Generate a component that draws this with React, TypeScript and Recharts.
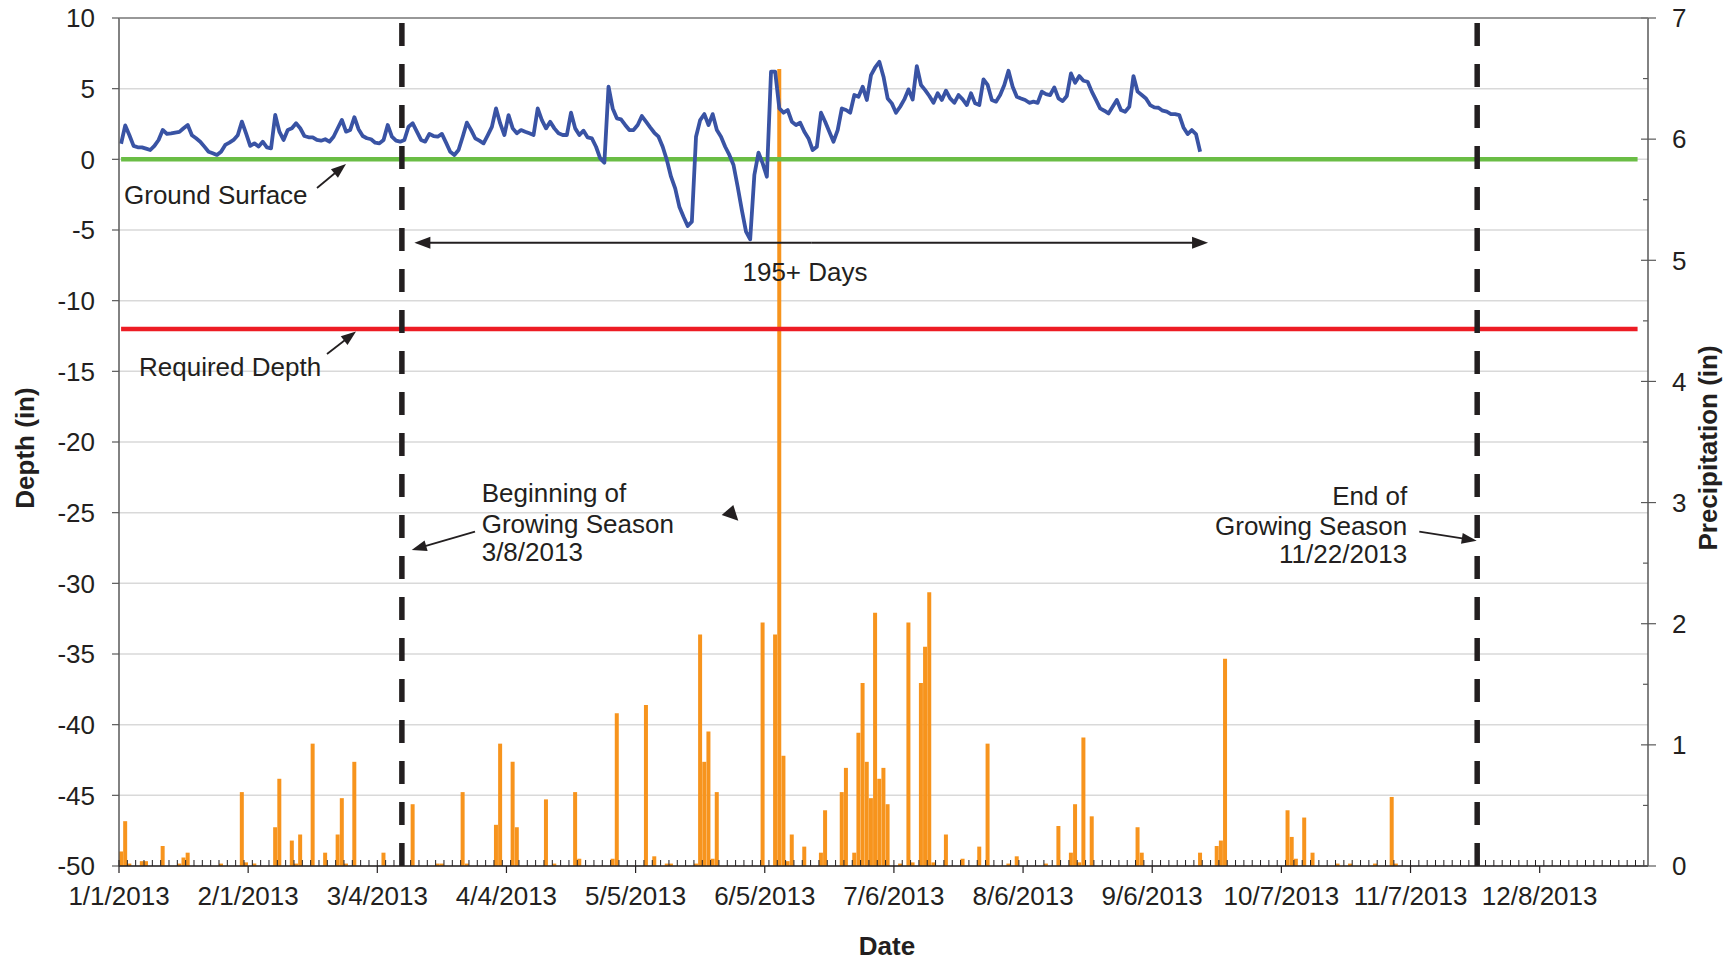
import React from 'react';
import { ComposedChart, Line, Bar, XAxis, YAxis, CartesianGrid, ReferenceLine } from 'recharts';

// ---------- data ----------
// Daily water-table depth (in), day 0 = 1/1/2013
const depthValues: number[] = [
  1.1, 2.4, 1.7, 0.95, 0.85, 0.85, 0.76, 0.66, 0.95, 1.37,
  2.08, 1.8, 1.84, 1.89, 1.94, 2.2, 2.43, 1.7, 1.49, 1.25,
  0.9, 0.54, 0.43, 0.31, 0.54, 1.02, 1.18, 1.37, 1.7, 2.67,
  1.84, 0.95, 1.13, 0.9, 1.25, 0.85, 0.78, 3.14, 1.96, 1.37,
  2.08, 2.2, 2.55, 2.2, 1.65, 1.56, 1.56, 1.37, 1.32, 1.42,
  1.25, 1.6, 2.2, 2.79, 1.96, 2.08, 2.98, 2.13, 1.65, 1.49,
  1.42, 1.18, 1.13, 1.37, 2.43, 1.6, 1.32, 1.25, 1.37, 2.31,
  2.55, 1.96, 1.37, 1.25, 1.8, 1.65, 1.6, 1.8, 1.18, 0.54,
  0.31, 0.66, 1.6, 2.6, 2.08, 1.49, 1.32, 1.13, 1.7, 2.3,
  3.6, 2.54, 1.72, 3.13, 2.19, 1.84, 2.07, 1.95, 1.84, 1.72,
  3.6, 2.78, 2.19, 2.66, 2.19, 1.84, 1.72, 1.72, 3.3, 2.19,
  1.72, 2.03, 1.55, 1.48, 0.89, 0.07, -0.24, 5.14, 3.6, 2.9,
  2.83, 2.43, 2.07, 2.07, 2.43, 3.06, 2.66, 2.26, 1.88, 1.6,
  0.89, -0.05, -1.23, -2.06, -3.35, -4.06, -4.72, -4.41, 1.6, 2.78,
  3.2, 2.43, 3.2, 2.07, 1.6, 0.89, 0.31, -0.4, -1.94, -3.59,
  -5.12, -5.66, -1.11, 0.47, -0.29, -1.23, 6.2, 6.2, 3.6, 3.3,
  3.49, 2.66, 2.43, 2.59, 1.95, 1.48, 0.66, 0.89, 3.3, 2.66,
  1.95, 1.25, 2.07, 3.6, 3.49, 3.3, 4.55, 4.43, 5.14, 4.2,
  5.96, 6.5, 6.9, 5.85, 4.31, 3.96, 3.3, 3.72, 4.24, 4.95,
  4.24, 6.6, 5.26, 4.9, 4.48, 4.0, 4.67, 4.2, 4.86, 4.31,
  4.0, 4.55, 4.24, 3.84, 4.67, 3.96, 3.84, 5.66, 5.26, 4.2,
  4.08, 4.55, 5.26, 6.27, 5.14, 4.43, 4.31, 4.2, 4.0, 4.08,
  4.0, 4.79, 4.62, 4.55, 5.09, 4.31, 4.12, 4.48, 6.08, 5.42,
  5.89, 5.56, 5.49, 4.79, 4.2, 3.6, 3.44, 3.25, 3.72, 4.2,
  3.49, 3.37, 3.72, 5.89, 4.79, 4.55, 4.31, 3.84, 3.68, 3.65,
  3.44, 3.37, 3.2, 3.2, 3.13, 2.26, 1.79, 2.07, 1.79, 0.54,
];

// Daily precipitation (in): day index and amount
const precipDays: number[] = [
  0, 1, 2, 5, 6, 10, 14, 15, 16, 24, 29, 30, 32, 37, 38, 41, 42, 43, 46, 49,
  52, 53, 54, 56, 63, 70, 76, 77,
  82, 83, 90, 91, 94, 95, 102, 104, 109, 110, 118, 119, 126, 128, 131, 132,
  138, 139, 140, 141, 142, 143, 154, 157, 158, 159,
  160, 161, 164, 168, 169, 173, 174, 176, 177, 178, 179, 180, 181, 182, 183, 184,
  187, 189, 190, 192, 193, 194, 195, 198, 202, 206, 208, 213, 215, 222, 225, 228,
  229, 230, 231, 233,
  244, 245, 259, 263, 264, 265, 280, 281, 282, 284, 286, 292, 295, 301, 305, 306,
];
const precipValues: number[] = [
  0.12, 0.37, 0.02, 0.04, 0.04, 0.165, 0.02, 0.07, 0.11, 0.02, 0.61, 0.03, 0.02, 0.32, 0.72, 0.21, 0.02, 0.26, 1.01, 0.11,
  0.26, 0.56, 0.02, 0.86, 0.11, 0.51, 0.02, 0.02,
  0.61, 0.02, 0.34, 1.01, 0.86, 0.32, 0.55, 0.02, 0.61, 0.06, 0.06, 1.26, 1.33, 0.08, 0.02, 0.02,
  0.02, 1.91, 0.86, 1.11, 0.06, 0.61, 2.01, 1.91, 6.58, 0.91,
  0.04, 0.26, 0.16, 0.11, 0.46, 0.61, 0.81, 0.11, 1.1, 1.51, 0.86, 0.56, 2.09, 0.72, 0.81, 0.51,
  0.02, 2.01, 0.03, 1.51, 1.81, 2.26, 0.03, 0.26, 0.06, 0.16, 1.01, 0.02, 0.08, 0.02, 0.33, 0.11,
  0.51, 0.03, 1.06, 0.41,
  0.32, 0.11, 0.11, 0.165, 0.21, 1.71, 0.46, 0.24, 0.06, 0.4, 0.11, 0.02, 0.02, 0.02, 0.57, 0.02,
];

const dateTickDays: number[] = [0, 31, 62, 93, 124, 155, 186, 217, 248, 279, 310, 341];
const dateTickLabels: string[] = [
  '1/1/2013', '2/1/2013', '3/4/2013', '4/4/2013', '5/5/2013', '6/5/2013',
  '7/6/2013', '8/6/2013', '9/6/2013', '10/7/2013', '11/7/2013', '12/8/2013',
];
const depthTicks: number[] = [-50, -45, -40, -35, -30, -25, -20, -15, -10, -5, 0, 5, 10];
const precipTicks: number[] = [0, 0.5, 1, 1.5, 2, 2.5, 3, 3.5, 4, 4.5, 5, 5.5, 6, 6.5, 7];

const GROUND_SURFACE = 0;
const REQUIRED_DEPTH = -12;
const REF_LINE_START_DAY = 0;
const REF_LINE_END_DAY = 364;
const SEASON_START = 67.9; // 3/8/2013 marker
const SEASON_END = 326; // 11/22/2013 marker
const SPAN_START = 70.9;
const SPAN_END = 261.4;
const SPAN_DEPTH = -5.9;

// ---------- layout ----------
const W = 1733;
const H = 963;
const LEFT_W = 119;
const RIGHT_W = 85;
const TOP = 18;
const X_H = 97;
const X_DOMAIN: [number, number] = [0, 367];
const D_DOMAIN: [number, number] = [-50, 10];
const PL = LEFT_W;
const PR = W - RIGHT_W;
const PT = TOP;
const PB = H - X_H;
const sx = (d: number) => PL + ((d - X_DOMAIN[0]) / (X_DOMAIN[1] - X_DOMAIN[0])) * (PR - PL);
const sy = (v: number) => PB - ((v - D_DOMAIN[0]) / (D_DOMAIN[1] - D_DOMAIN[0])) * (PB - PT);

const FONT = 'Liberation Sans, Arial, Helvetica, sans-serif';
const INK = '#231F20';

// build the table (each day is plotted at the middle of its date slot)
type Row = { x: number; depth?: number; precip?: number; ground?: number; required?: number };
const rowMap = new Map<number, Row>();
const getRow = (day: number) => {
  const x = day + 0.5;
  let r = rowMap.get(x);
  if (!r) {
    r = { x };
    rowMap.set(x, r);
  }
  return r;
};
depthValues.forEach((v, d) => {
  getRow(d).depth = v;
});
precipDays.forEach((d, i) => {
  getRow(d).precip = precipValues[i];
});
getRow(REF_LINE_START_DAY).ground = GROUND_SURFACE;
getRow(REF_LINE_END_DAY).ground = GROUND_SURFACE;
getRow(REF_LINE_START_DAY).required = REQUIRED_DEPTH;
getRow(REF_LINE_END_DAY).required = REQUIRED_DEPTH;
const tableData: Row[] = Array.from(rowMap.values()).sort((a, b) => a.x - b.x);

const xTicks: number[] = Array.from(
  new Set<number>([...Array.from({ length: 184 }, (_, i) => i * 2), ...dateTickDays])
).sort((a, b) => a - b);

const DateTick = (props: any) => {
  const { x, y, payload } = props;
  const v = payload.value as number;
  const idx = dateTickDays.indexOf(v);
  return (
    <g>
      {v % 2 === 0 && <line x1={x} x2={x} y1={y} y2={y - 6} stroke={INK} strokeWidth={1} />}
      {idx >= 0 && <line x1={x} x2={x} y1={y} y2={y + 7} stroke={INK} strokeWidth={1.2} />}
      {idx >= 0 && (
        <text x={x} y={y + 39} textAnchor="middle" fontSize={26} fontFamily={FONT} fill={INK}>
          {dateTickLabels[idx]}
        </text>
      )}
    </g>
  );
};

const PrecipTick = (props: any) => {
  const { x, y, payload } = props;
  const v = payload.value as number;
  const major = Number.isInteger(v);
  return (
    <g>
      {major ? (
        <line x1={x - 7} x2={x + 8} y1={y} y2={y} stroke="#595959" strokeWidth={1.2} />
      ) : (
        <line x1={x - 5} x2={x} y1={y} y2={y} stroke="#595959" strokeWidth={1.2} />
      )}
      {major && (
        <text x={x + 24} y={y} dy="0.355em" textAnchor="start" fontSize={26} fontFamily={FONT} fill={INK}>
          {v}
        </text>
      )}
    </g>
  );
};

const Arrow = ({ x1, y1, x2, y2, len = 15, half = 5.5, w = 1.8 }: any) => {
  const dx = x2 - x1;
  const dy = y2 - y1;
  const L = Math.sqrt(dx * dx + dy * dy);
  const ux = dx / L;
  const uy = dy / L;
  const bx = x2 - ux * len;
  const by = y2 - uy * len;
  const px = -uy * half;
  const py = ux * half;
  return (
    <g>
      <line x1={x1} y1={y1} x2={bx + ux * 2} y2={by + uy * 2} stroke={INK} strokeWidth={w} />
      <polygon points={`${x2},${y2} ${bx + px},${by + py} ${bx - px},${by - py}`} fill={INK} />
    </g>
  );
};

const txt = { fontSize: 26, fontFamily: FONT, fill: INK } as const;

export default function App() {
  return (
    <div style={{ position: 'absolute', left: 0, top: 0, width: W, height: H, background: '#fff' }}>
      <ComposedChart
        width={W}
        height={H}
        data={tableData}
        margin={{ top: TOP, right: 0, bottom: 0, left: 0 }}
      >
        <CartesianGrid yAxisId="depth" vertical={false} stroke="#D9D9D9" strokeWidth={1.5} />
        <XAxis
          dataKey="x"
          type="number"
          domain={X_DOMAIN}
          allowDataOverflow
          ticks={xTicks}
          interval={0}
          height={X_H}
          tickSize={0}
          tickMargin={0}
          tickLine={false}
          tick={DateTick}
          axisLine={{ stroke: INK, strokeWidth: 1.5 }}
        />
        <YAxis
          yAxisId="depth"
          type="number"
          domain={D_DOMAIN}
          allowDataOverflow
          ticks={depthTicks}
          interval={0}
          width={LEFT_W}
          tickSize={7}
          tickMargin={17}
          tickLine={{ stroke: '#595959', strokeWidth: 1.2 }}
          axisLine={{ stroke: '#595959', strokeWidth: 1.5 }}
          tick={{ fontSize: 26, fontFamily: FONT, fill: INK }}
        />
        <YAxis
          yAxisId="precip"
          orientation="right"
          type="number"
          domain={[0, 7]}
          allowDataOverflow
          ticks={precipTicks}
          interval={0}
          width={RIGHT_W}
          tickSize={0}
          tickMargin={0}
          tickLine={false}
          tick={PrecipTick}
          axisLine={{ stroke: '#595959', strokeWidth: 1.5 }}
        />
        <Line
          yAxisId="depth"
          dataKey="ground"
          stroke="#6ABD45"
          strokeWidth={4.5}
          dot={false}
          activeDot={false}
          connectNulls
          isAnimationActive={false}
        />
        <Line
          yAxisId="depth"
          dataKey="required"
          stroke="#ED1C24"
          strokeWidth={4.5}
          dot={false}
          activeDot={false}
          connectNulls
          isAnimationActive={false}
        />
        <Line
          yAxisId="depth"
          dataKey="depth"
          stroke="#3953A4"
          strokeWidth={3.8}
          strokeLinejoin="round"
          dot={false}
          activeDot={false}
          connectNulls
          isAnimationActive={false}
        />
        <Bar yAxisId="precip" dataKey="precip" fill="#F7941D" barSize={4} isAnimationActive={false} />
        <ReferenceLine
          yAxisId="depth"
          segment={[{ x: SEASON_START, y: D_DOMAIN[0] }, { x: SEASON_START, y: D_DOMAIN[1] }]}
          stroke={INK}
          strokeWidth={5.5}
          strokeDasharray="23 18"
          ifOverflow="visible"
        />
        <ReferenceLine
          yAxisId="depth"
          segment={[{ x: SEASON_END, y: D_DOMAIN[0] }, { x: SEASON_END, y: D_DOMAIN[1] }]}
          stroke={INK}
          strokeWidth={5.5}
          strokeDasharray="23 18"
          ifOverflow="visible"
        />
      </ComposedChart>
      <svg
        width={W}
        height={H}
        style={{ position: 'absolute', left: 0, top: 0, pointerEvents: 'none' }}
      >
        <line x1={PL} x2={PR} y1={PT} y2={PT} stroke="#7F7F7F" strokeWidth={1.5} />
        {/* axis titles */}
        <text x={887} y={955} textAnchor="middle" fontSize={26} fontWeight="bold" fontFamily={FONT} fill={INK}>
          Date
        </text>
        <text
          x={25}
          y={448}
          dy="0.35em"
          textAnchor="middle"
          fontSize={26}
          fontWeight="bold"
          fontFamily={FONT}
          fill={INK}
          transform="rotate(-90 25 448)"
        >
          Depth (in)
        </text>
        <text
          x={1708}
          y={448}
          dy="0.35em"
          textAnchor="middle"
          fontSize={26}
          fontWeight="bold"
          fontFamily={FONT}
          fill={INK}
          transform="rotate(-90 1708 448)"
        >
          Precipitation (in)
        </text>
        {/* annotations */}
        <text x={124} y={204} {...txt}>Ground Surface</text>
        <Arrow x1={317} y1={188} x2={346} y2={164} />
        <text x={139} y={376} {...txt}>Required Depth</text>
        <Arrow x1={327} y1={354} x2={356} y2={331.5} />
        <Arrow x1={(sx(SPAN_START) + sx(SPAN_END)) / 2} y1={sy(SPAN_DEPTH)} x2={sx(SPAN_START)} y2={sy(SPAN_DEPTH)} len={16} half={6} w={2} />
        <Arrow x1={(sx(SPAN_START) + sx(SPAN_END)) / 2} y1={sy(SPAN_DEPTH)} x2={sx(SPAN_END)} y2={sy(SPAN_DEPTH)} len={16} half={6} w={2} />
        <text x={805} y={281} textAnchor="middle" {...txt}>195+ Days</text>
        <text x={481.7} y={502} {...txt}>Beginning of</text>
        <text x={481.7} y={532.5} {...txt}>Growing Season</text>
        <text x={481.7} y={561} {...txt}>3/8/2013</text>
        <Arrow x1={475} y1={531.7} x2={411.7} y2={550} />
        <polygon points="721.7,515 733.3,505 738.3,520.7" fill={INK} />
        <text x={1407.3} y={505} textAnchor="end" {...txt}>End of</text>
        <text x={1407.3} y={535} textAnchor="end" {...txt}>Growing Season</text>
        <text x={1407.3} y={563.3} textAnchor="end" {...txt}>11/22/2013</text>
        <Arrow x1={1419.3} y1={531.7} x2={1476.7} y2={540.7} />
      </svg>
    </div>
  );
}
